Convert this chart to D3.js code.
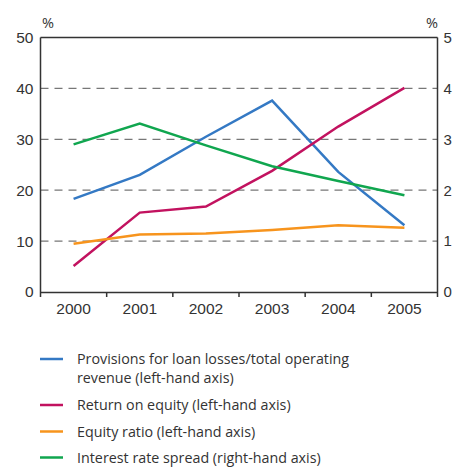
<!DOCTYPE html>
<html>
<head>
<meta charset="utf-8">
<script src="https://cdn.jsdelivr.net/npm/d3@7"></script>
<style>
  html, body { margin: 0; padding: 0; background: #fff; }
  svg { display: block; font-family: "Open Sans", "Noto Sans", sans-serif; }
</style>
</head>
<body>
<svg id="chart" width="454" height="467"></svg>
<script>
// Years on the x axis
const years = ["2000", "2001", "2002", "2003", "2004", "2005"];

// Left-hand axis series (per cent)
const provisions = [18.3, 23.0, 30.5, 37.6, 23.6, 13.1];
const returnOnEquity = [5.1, 15.6, 16.8, 23.8, 32.5, 40.1];
const equityRatio = [9.5, 11.3, 11.5, 12.2, 13.1, 12.6];

// Right-hand axis series (per cent)
const interestSpread = [2.90, 3.31, 2.88, 2.47, 2.18, 1.90];

// Axis ticks
const leftTicks = [0, 10, 20, 30, 40, 50];
const rightTicks = [0, 1, 2, 3, 4, 5];

const seriesNames = [
  "Provisions for loan losses/total operating\nrevenue (left-hand axis)",
  "Return on equity (left-hand axis)",
  "Equity ratio (left-hand axis)",
  "Interest rate spread (right-hand axis)"
];
const seriesColors = ["#3479c4", "#c2125f", "#f7941d", "#10a64f"];

const svg = d3.select("#chart");
const plotLeft = 40.5, plotRight = 437.5, plotTop = 37.5, plotBottom = 292;

const x = d3.scaleBand().domain(years).range([plotLeft, plotRight]);
const yL = d3.scaleLinear().domain([0, 50]).range([plotBottom, plotTop]);
const yR = d3.scaleLinear().domain([0, 5]).range([plotBottom, plotTop]);

const textColor = "#333";
const intFormat = d3.format("d");

// Dashed grid lines
svg.append("g")
  .selectAll("line")
  .data(leftTicks.filter(d => d > 0 && d < 50))
  .join("line")
  .attr("x1", plotLeft).attr("x2", plotRight)
  .attr("y1", d => yL(d)).attr("y2", d => yL(d))
  .attr("stroke", "#777")
  .attr("stroke-width", 1.3)
  .attr("stroke-dasharray", "8,6");

// Frame: top border
svg.append("line")
  .attr("x1", plotLeft).attr("x2", plotRight)
  .attr("y1", plotTop).attr("y2", plotTop)
  .attr("stroke", textColor).attr("stroke-width", 1.3);

// Left axis
const gL = svg.append("g").attr("transform", `translate(${plotLeft},0)`)
  .call(d3.axisLeft(yL).tickValues(leftTicks).tickFormat(intFormat).tickSize(0).tickPadding(7));
// Right axis
const gR = svg.append("g").attr("transform", `translate(${plotRight},0)`)
  .call(d3.axisRight(yR).tickValues(rightTicks).tickFormat(intFormat).tickSize(0).tickPadding(6));
// Bottom axis: labels centred in bands
const gB = svg.append("g").attr("transform", `translate(0,${plotBottom})`)
  .call(d3.axisBottom(x).tickSize(0).tickPadding(11));

[gL, gR, gB].forEach(g => {
  g.select(".domain").attr("stroke", textColor).attr("stroke-width", 1.5);
  g.selectAll("text").attr("fill", textColor).attr("font-size", 15.5);
});
gR.selectAll("text").attr("font-size", 15);
gL.select(".domain").attr("d", `M0,${plotTop}V${plotBottom + 5}`);
gR.select(".domain").attr("d", `M0,${plotTop}V${plotBottom + 5}`);

// Category boundary ticks
svg.append("g")
  .selectAll("line")
  .data(years.slice(1))
  .join("line")
  .attr("x1", d => x(d)).attr("x2", d => x(d))
  .attr("y1", plotBottom).attr("y2", plotBottom + 5)
  .attr("stroke", textColor).attr("stroke-width", 1.5);

// Unit labels
svg.append("text").attr("x", 48).attr("y", 28).attr("text-anchor", "middle")
  .attr("fill", textColor).attr("font-size", 14.5).text("%");
svg.append("text").attr("x", 432).attr("y", 28).attr("text-anchor", "middle")
  .attr("fill", textColor).attr("font-size", 14.5).text("%");

// Lines
const cx = d => x(d) + x.bandwidth() / 2;
const lineL = d3.line().x((d, i) => cx(years[i])).y(d => yL(d));
const lineR = d3.line().x((d, i) => cx(years[i])).y(d => yR(d));

const plotted = [
  { values: provisions, gen: lineL, color: seriesColors[0] },
  { values: returnOnEquity, gen: lineL, color: seriesColors[1] },
  { values: equityRatio, gen: lineL, color: seriesColors[2] },
  { values: interestSpread, gen: lineR, color: seriesColors[3] }
];
svg.append("g")
  .selectAll("path")
  .data(plotted)
  .join("path")
  .attr("d", d => d.gen(d.values))
  .attr("fill", "none")
  .attr("stroke", d => d.color)
  .attr("stroke-width", 2.5)
  .attr("stroke-linejoin", "miter");

// Legend
const legendRows = [359, 405, 431.5, 457.5];
const legend = svg.append("g");
seriesNames.forEach((name, i) => {
  const yy = legendRows[i];
  legend.append("line")
    .attr("x1", 40).attr("x2", 63)
    .attr("y1", yy).attr("y2", yy)
    .attr("stroke", seriesColors[i]).attr("stroke-width", 2.5);
  const t = legend.append("text")
    .attr("x", 77).attr("y", yy)
    .attr("fill", textColor)
    .attr("font-size", 14.3);
  name.split("\n").forEach((part, j) => {
    t.append("tspan").attr("x", 77).attr("dy", j === 0 ? "0.35em" : "19px").text(part);
  });
});
</script>
</body>
</html>
